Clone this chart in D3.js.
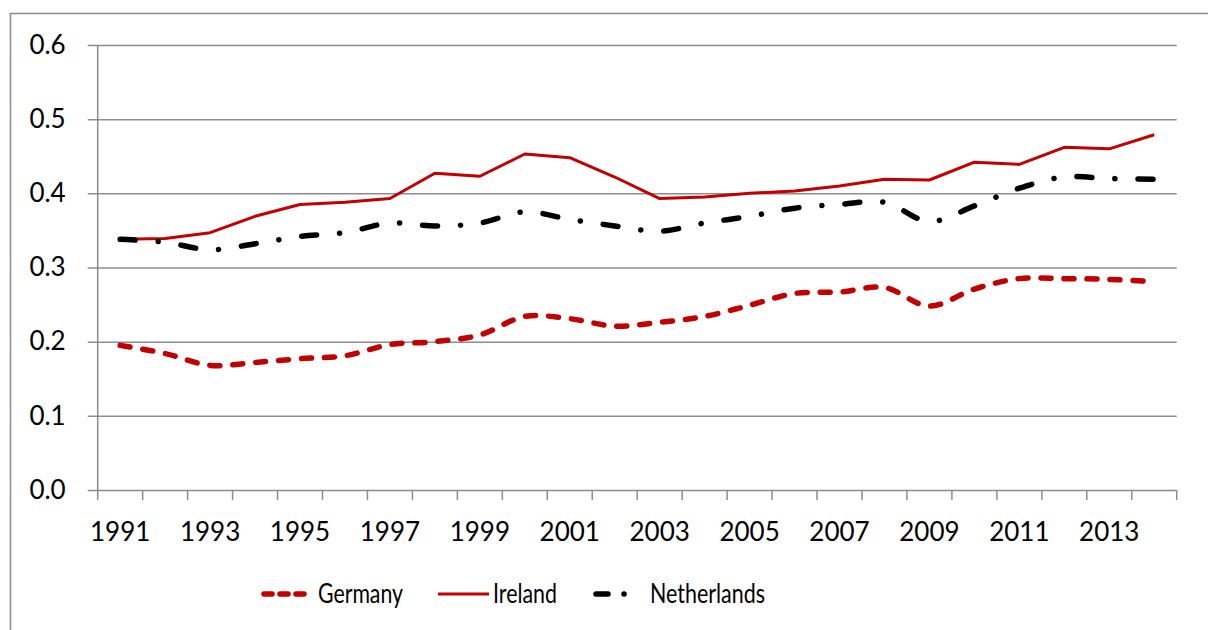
<!DOCTYPE html>
<html>
<head>
<meta charset="utf-8">
<script src="https://cdn.jsdelivr.net/npm/d3@7"></script>
<style>
  body { margin: 0; background: white; }
  text { font-family: Lato, "Open Sans", sans-serif; fill: #000; }
</style>
</head>
<body>
<div id="chart"></div>
<script>
let W = 1208
let H = 630

// data
let years = d3.range(1991, 2015).map(String)
let germany = [0.195, 0.184, 0.168, 0.172, 0.177, 0.181, 0.196, 0.200, 0.209, 0.234, 0.231, 0.221,
    0.226, 0.234, 0.249, 0.265, 0.267, 0.273, 0.248, 0.271, 0.285, 0.285, 0.284, 0.281]
let ireland = [0.338, 0.339, 0.347, 0.369, 0.385, 0.388, 0.393, 0.427, 0.423, 0.453, 0.448, 0.422,
    0.393, 0.395, 0.400, 0.403, 0.410, 0.419, 0.418, 0.442, 0.439, 0.462, 0.460, 0.479]
let netherlands = [0.338, 0.334, 0.324, 0.332, 0.342, 0.347, 0.360, 0.356, 0.360, 0.375, 0.365, 0.356,
    0.349, 0.360, 0.369, 0.380, 0.385, 0.388, 0.362, 0.383, 0.407, 0.422, 0.420, 0.419]
let yTicks = [0, 0.1, 0.2, 0.3, 0.4, 0.5, 0.6]
let seriesNames = ["Germany", "Ireland", "Netherlands"]

let svg = d3.select("#chart").append("svg")
    .attr("width", W).attr("height", H)

// outer frame (only top and left visible)
svg.append("path")
    .attr("d", `M10.5,${H + 5} L10.5,13.5 L${W + 5},13.5`)
    .attr("fill", "none").attr("stroke", "#8c8c8c").attr("stroke-width", 1.5)

let plotL = 97.7, plotR = 1176.7, plotT = 45, plotB = 490

let x = d3.scaleBand().domain(years).range([plotL, plotR])
let y = d3.scaleLinear().domain([0, 0.6]).range([plotB, plotT])

// gridlines + y axis
let yAxis = svg.append("g").attr("transform", `translate(${plotL},0)`)
    .call(d3.axisLeft(y).tickValues(yTicks).tickSize(10).tickFormat(d3.format(".1f")).tickPadding(22))
yAxis.select(".domain").remove()
yAxis.selectAll(".tick line").attr("x2", plotR - plotL).attr("x1", -10)
    .attr("stroke", "#8c8c8c").attr("stroke-width", 1.5)
yAxis.selectAll(".tick text").style("font-size", "26px").attr("font-family", null)

svg.append("line").attr("x1", plotL).attr("x2", plotL).attr("y1", plotT).attr("y2", plotB)
    .attr("stroke", "#8c8c8c").attr("stroke-width", 1.5)

// x axis ticks on band edges
let edges = years.map(d => x(d)).concat([plotR])
svg.append("g").selectAll("line").data(edges).join("line")
    .attr("x1", d => d).attr("x2", d => d)
    .attr("y1", plotB).attr("y2", plotB + 10)
    .attr("stroke", "#8c8c8c").attr("stroke-width", 1.5)

svg.append("g").selectAll("text").data(years.filter((d, i) => i % 2 == 0)).join("text")
    .attr("x", d => x(d) + x.bandwidth() / 2)
    .attr("y", 541)
    .attr("text-anchor", "middle")
    .style("font-size", "26px")
    .text(d => d)

let cx = (d, i) => x(years[i]) + x.bandwidth() / 2

let styles = {
    Germany: { color: "#C00000", width: 5.5, dash: "10,13", cap: "round", curve: d3.curveCatmullRom, data: germany },
    Ireland: { color: "#C00000", width: 3, dash: null, cap: "butt", curve: d3.curveLinear, data: ireland },
    Netherlands: { color: "#000000", width: 5.5, dash: "15,23,0.1,23", cap: "round", curve: d3.curveCatmullRom, data: netherlands }
}

seriesNames.forEach(name => {
    let s = styles[name]
    let line = d3.line().x(cx).y(d => y(d)).curve(s.curve)
    svg.append("path")
        .attr("d", line(s.data))
        .attr("fill", "none")
        .attr("stroke", s.color)
        .attr("stroke-width", s.width)
        .attr("stroke-linecap", s.cap)
        .attr("stroke-linejoin", "round")
        .attr("stroke-dasharray", s.dash)
})

// legend
let legendX = [262, 438, 594]
let legendTextW = [85, 64, 115]
let legend = svg.append("g").selectAll("g").data(seriesNames).join("g")
    .attr("transform", (d, i) => `translate(${legendX[i]},594)`)
legend.append("line")
    .attr("x1", d => styles[d].cap == "round" ? 2 : 0)
    .attr("x2", d => styles[d].cap == "round" ? 49 : 51)
    .attr("stroke", d => styles[d].color)
    .attr("stroke-width", d => styles[d].width)
    .attr("stroke-linecap", d => styles[d].cap)
    .attr("stroke-dasharray", (d) => d == "Germany" ? "8,8" : d == "Netherlands" ? "12,16,0.1,19,0.1,30" : null)
legend.append("text")
    .attr("x", (d, i) => [56, 55, 56][i])
    .attr("y", 9)
    .attr("textLength", (d, i) => legendTextW[i])
    .attr("lengthAdjust", "spacingAndGlyphs")
    .style("font-size", "27px")
    .text(d => d)
</script>
</body>
</html>
